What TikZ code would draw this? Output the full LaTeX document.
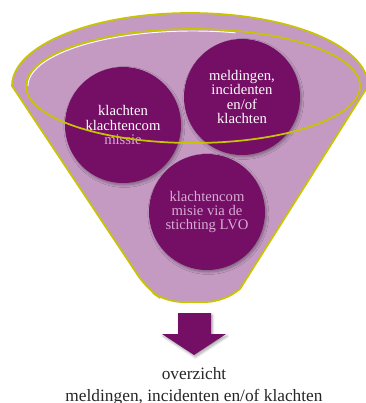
\documentclass[tikz,border=0pt]{standalone}
\usepackage{fontspec}
\setmainfont{Liberation Serif}
\usepackage{tikz}
\usetikzlibrary{shadows.blur}
\definecolor{plum}{RGB}{117,14,101}
\definecolor{lilac}{RGB}{196,154,194}
\definecolor{rimyellow}{RGB}{200,196,0}
\definecolor{palelilac}{RGB}{214,172,212}

\begin{document}
\begin{tikzpicture}[
    x=0.75pt, y=-0.75pt,
    funnel/.style={
        fill=lilac,
        draw=rimyellow,
        line width=1.3pt
    },
    rim/.style={
        draw=rimyellow,
        line width=1.3pt
    },
    bubble/.style={
        circle,
        fill=plum,
        minimum size=87pt,
        inner sep=0pt,
        align=center,
        text=white,
        font=\fontsize{11}{10.6}\selectfont,
        blur shadow={shadow xshift=1pt, shadow yshift=-1.5pt, shadow blur steps=6, shadow opacity=35}
    },
    downarrow/.style={
        fill=plum,
        blur shadow={shadow xshift=1pt, shadow yshift=-1.5pt, shadow blur steps=6, shadow opacity=35}
    },
    caption/.style={
        font=\fontsize{13}{15}\selectfont,
        text=black!85
    }
]
\useasboundingbox (0,0) rectangle (366,403);

% Funnel
\path[funnel] (12,86) arc[start angle=180, end angle=360, x radius=178, y radius=73]
    -- (240,289) [rounded corners=12pt] -- (222,302) -- (166,302) -- (147,289) [sharp corners] -- cycle;

% Nodes
\node (klacht) [bubble] at (123,125) {klachten\\klachtencom\\\textcolor{palelilac}{missie}};
\node (meld) [bubble] at (242,97) {meldingen,\\incidenten\\en/of\\klachten};
\node (lvo) [bubble, text=palelilac] at (207,212) {klachtencom\\misie via de\\stichting LVO};

% Rim
\draw[rim] (193,86) ellipse[x radius=167, y radius=57];
\draw[white, line width=0.7pt] (193,86) ++(-165,0) arc[start angle=180, end angle=285, x radius=165, y radius=55];

% Output
\path[downarrow] (178,313) -- (211,313) -- (211,334) -- (226,334) -- (194,355) -- (162,334) -- (178,334) -- cycle;
\node (total) [caption] at (194,374) {overzicht};
\node (list) [caption] at (194,397) {meldingen, incidenten en/of klachten};

\end{tikzpicture}
\end{document}
